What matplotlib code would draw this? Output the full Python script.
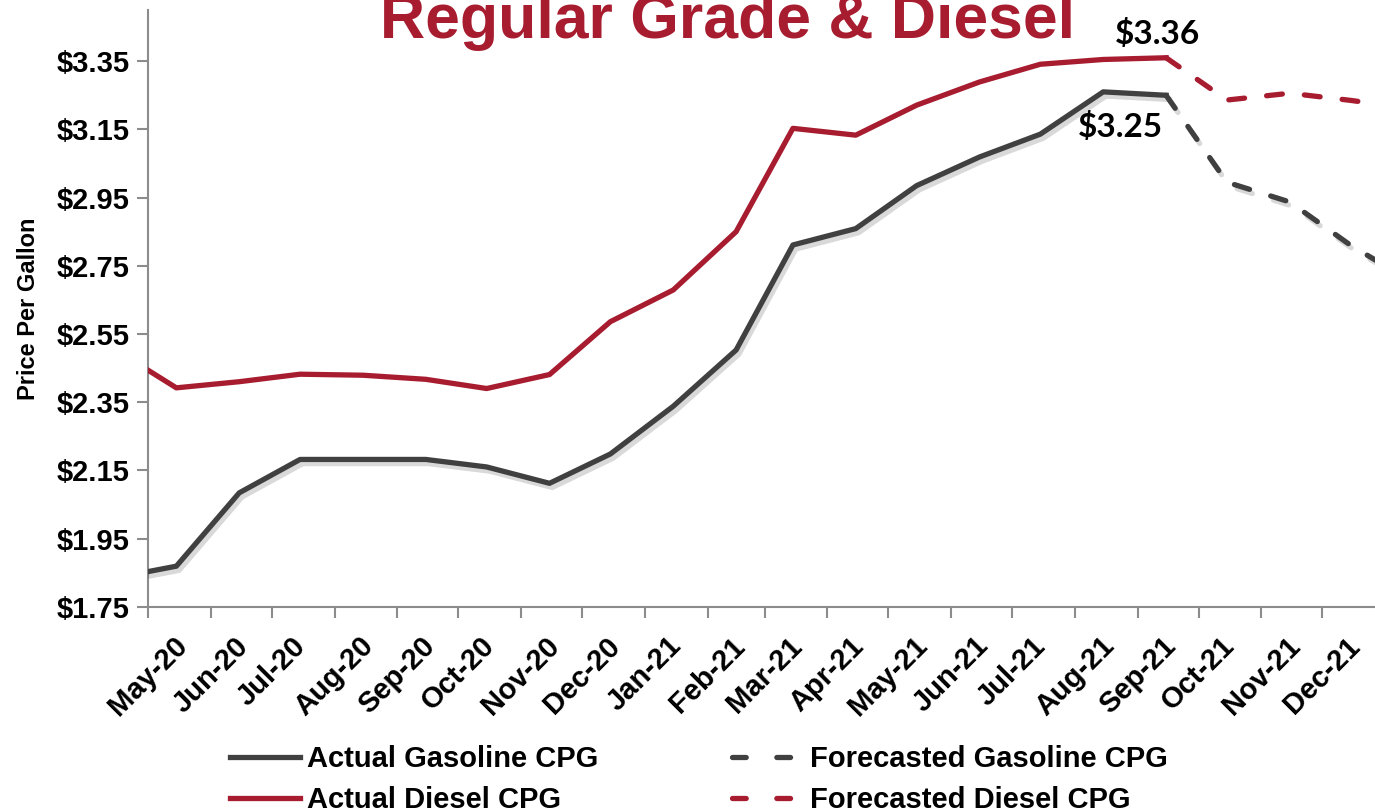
import matplotlib
matplotlib.use("Agg")
import matplotlib.pyplot as plt
import matplotlib.patheffects as pe
from matplotlib.lines import Line2D
import pandas as pd

# monthly average prices, mid-month points (first point at start of axis)
dates = pd.to_datetime([
    "2020-05-01", "2020-05-15", "2020-06-15", "2020-07-15", "2020-08-15",
    "2020-09-15", "2020-10-15", "2020-11-15", "2020-12-15", "2021-01-15",
    "2021-02-15", "2021-03-15", "2021-04-15", "2021-05-15", "2021-06-15",
    "2021-07-15", "2021-08-15", "2021-09-15", "2021-10-15", "2021-11-15",
    "2021-12-15", "2022-01-15",
])
gasoline = [1.853, 1.869, 2.084, 2.182, 2.182, 2.182, 2.160, 2.112, 2.198, 2.338,
            2.503, 2.811, 2.859, 2.985, 3.069, 3.136, 3.260, 3.25, 2.995, 2.937,
            2.81, 2.70]
diesel = [2.444, 2.392, 2.410, 2.432, 2.429, 2.417, 2.390, 2.431, 2.586, 2.679,
          2.850, 3.153, 3.133, 3.221, 3.289, 3.341, 3.355, 3.36, 3.236, 3.256,
          3.235, 3.21]
last_actual = 17  # Sep-21, forecast starts here

month_ticks = pd.date_range("2020-05-01", "2021-12-01", freq="MS")
month_labels = [d.strftime("%b-%y") for d in month_ticks]
y_ticks = [1.75, 1.95, 2.15, 2.35, 2.55, 2.75, 2.95, 3.15, 3.35]
legend_labels = ["Actual Gasoline CPG", "Actual Diesel CPG",
                 "Forecasted Gasoline CPG", "Forecasted Diesel CPG"]

GAS = "#404040"
DSL = "#A81C30"
plt.rcParams["font.family"] = ["Liberation Sans", "DejaVu Sans"]


def main():
    fig = plt.figure(figsize=(13.75, 8.09), dpi=100)
    ax = fig.add_axes([0.1076, 0.25, 0.8924, 0.7376])

    shadow = [pe.SimpleLineShadow(offset=(2, -3), shadow_color="black", alpha=0.15),
              pe.Normal()]
    lw = 3.8
    a = slice(0, last_actual + 1)
    f = slice(last_actual, None)
    ax.plot(dates[a], gasoline[a], color=GAS, lw=lw, path_effects=shadow, zorder=3)
    ax.plot(dates[a], diesel[a], color=DSL, lw=lw, zorder=3)
    ax.plot(dates[f], gasoline[f], color=GAS, lw=lw, path_effects=shadow,
            dashes=(3, 4.2), dash_capstyle="round", zorder=3)
    ax.plot(dates[f], diesel[f], color=DSL, lw=lw, dashes=(3, 4.2),
            dash_capstyle="round", zorder=3)

    ax.set_xlim(pd.Timestamp("2020-05-01"), pd.Timestamp("2021-12-27"))
    ax.set_ylim(1.75, 3.50)
    ax.set_yticks(y_ticks)
    ax.set_yticklabels([f"${v:.2f}" for v in y_ticks], fontsize=21, fontweight="bold")
    ax.set_xticks(month_ticks)
    ax.set_xticklabels(month_labels, rotation=45, ha="center", va="top",
                       fontsize=21, fontweight="bold")
    ax.tick_params(axis="both", length=8, width=1.5, color="#8c8c8c", pad=5)
    ax.tick_params(axis="x", pad=10)
    for s in ["top", "right"]:
        ax.spines[s].set_visible(False)
    for s in ["left", "bottom"]:
        ax.spines[s].set_color("#8c8c8c")
        ax.spines[s].set_linewidth(1.5)
    ax.set_ylabel("Price Per Gallon", fontsize=17, fontweight="bold", labelpad=12)

    # peak labels at Sep-21
    ax.annotate(f"${diesel[last_actual]:.2f}", (dates[last_actual], diesel[last_actual]),
                xytext=(-6, 17), textcoords="offset points", ha="center", va="center",
                fontsize=24, fontweight="bold", family=["Lato", "DejaVu Sans"])
    ax.annotate(f"${gasoline[last_actual]:.2f}", (dates[last_actual], gasoline[last_actual]),
                xytext=(-33, -23), textcoords="offset points", ha="center", va="center",
                fontsize=24, fontweight="bold", family=["Lato", "DejaVu Sans"])

    fig.text(727 / 1375, 1 - 38 / 809, "Regular Grade & Diesel", ha="center",
             va="baseline", fontsize=45, fontweight="bold", color=DSL)

    handles = [
        Line2D([], [], color=GAS, lw=lw),
        Line2D([], [], color=DSL, lw=lw),
        Line2D([], [], color=GAS, lw=lw, dashes=(2.6, 5.8), dash_capstyle="round"),
        Line2D([], [], color=DSL, lw=lw, dashes=(2.6, 5.8), dash_capstyle="round"),
    ]
    fig.legend(handles, legend_labels, ncol=2, loc="center",
               bbox_to_anchor=(0.508, 0.036), frameon=False, handlelength=2.4,
               handletextpad=0.25, columnspacing=4.6, labelspacing=0.45,
               prop={"size": 21, "weight": "bold"})

    fig.savefig("out.png", dpi=100)


if __name__ == "__main__":
    main()
